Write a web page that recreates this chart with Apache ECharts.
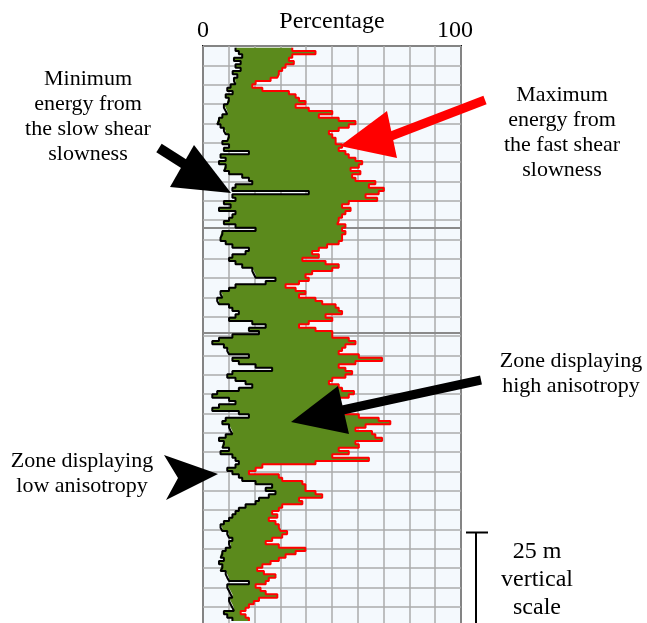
<!DOCTYPE html>
<html><head><meta charset="utf-8">
<script src="https://cdn.jsdelivr.net/npm/echarts/dist/echarts.min.js"></script>
<style>html,body{margin:0;padding:0;background:#fff;}#c{width:647px;height:623px;}</style>
</head><body><div id="c"></div>
<script>
// Minimum energy (slow shear slowness), percent, one sample per depth step (top -> bottom)
const minEnergy = [null,
12.6,13.9,15.2,12,14.6,12.6,14.6,11.5,13.3,12,12.6,10.7,9.4,11.5,8.8,10,9.4,8.1,8.8,9.4,7.5,6.2,5.5,6.8,8.1,8.8,10,9.4,
7.5,10.1,8.1,17.8,6.8,8.8,6.2,8.8,8.1,10.1,15.2,17.8,19.1,12.6,11.4,41,11.4,12.6,8.1,10.7,6.2,12.6,11.4,10.1,8.1,12.6,20.4,7.5,6.8,
6.8,8.8,11.4,17.8,16.5,11.4,10.1,12.6,15.2,19.1,19.7,20.4,28.1,24.3,12.6,10.1,6.8,7.5,5.5,6.2,10.1,11.4,13.9,12.6,10.1,19.1,24.3,17.8,21.7,
11.4,6.2,3.6,8.1,9.4,10.1,17.8,11.4,13.9,20.4,26.8,11.4,9.4,12.6,16.5,19.1,13.9,5.5,3.6,10.1,12.6,6.2,3.6,13.9,17.8,8.8,7.5,10.1,10.7,
11.4,8.8,6.2,8.1,7.5,10.1,6.8,11.4,12.6,13.9,12.6,9.4,11.4,13.9,15.2,20.4,26.8,24.3,28.1,25.5,21.7,20.4,16.5,13.9,12.6,11.4,10.1,8.1,6.8,
7.5,9.4,10.1,11.4,10.1,10.7,8.8,7.5,6.8,8.1,6.2,7.5,6.8,8.8,9.4,10.1,17.8,9.4,10.1,10.7,11.4,10.1,10.7,11.4,12,8.1,9.4,11.4,
null,null];
// Maximum energy (fast shear slowness), percent
const maxEnergy = [null,
34.6,43.6,34.6,33.3,35.2,32,30.7,29.4,28.8,26.2,20.4,19.1,23,33.3,35.9,37.2,39.7,35.9,41,50.1,44.9,52.6,59.1,56.5,52.6,48.8,50.1,51.4,
51.4,53.9,52.6,55.2,56.5,59.1,61.7,60.4,57.2,61,57.8,59.1,66.8,64.3,70.1,68.1,63,67.5,56.5,53.9,57.2,55.2,53.9,52.6,52,55.2,53.9,55.2,53.9,
53.9,52.6,48.1,44.9,42.3,44.9,38.5,47.5,52.6,50.1,42.3,39.7,41,37.2,32,35.9,39.7,37.2,43.6,46.2,51.4,52.6,53.9,47.5,50.1,41,37.2,43.6,50.1,
50.1,56.5,59.1,55.2,53.9,52.6,60.4,69.4,59.1,52.6,55.2,57.8,55.2,50.1,48.8,52.6,53.9,58.5,56.5,52.6,50.1,52.6,53.9,55.2,60.4,68.1,72.6,63,59.1,
65.5,66.8,69.4,59.1,60.4,52.6,56.5,50.1,64.3,43.6,23,20.4,17.8,29.4,30.7,38.5,39.7,39.7,43.6,46.2,37.2,38.5,30.7,29.4,26.8,28.8,25.5,28.1,29.4,
30.1,32.6,30.7,26.8,24.3,29.4,39.7,35.9,32,29.4,26.2,23,21,23.6,28.1,25.5,24.3,20.4,22.3,24.3,28.8,21.7,19.7,17.8,16.5,14.6,16.5,17.8,
null,null];
const depthSamples = minEnergy.map((_, i) => String(i));
const xTickLabels = [0, 100];
const depthRange = [0, 150];       // metres shown by the grid
const depthGridStep = 5;           // metres between horizontal grid lines
const markerDepths = [47.05, 74.25];

const FONT = '"Liberation Serif", "Times New Roman", serif';
const minData = minEnergy.map(v => v == null ? '-' : v);
const spanData = maxEnergy.map((v, i) => (v == null || minEnergy[i] == null) ? '-' : +(v - minEnergy[i]).toFixed(2));

const chart = echarts.init(document.getElementById('c'), null, {renderer: 'canvas'});
const txt = (text, x, y, size, lh) => ({
  type: 'text', x: x, y: y, silent: true, z: 100,
  style: {text: text, font: size + 'px ' + FONT, fill: '#000', align: 'center', verticalAlign: 'top', lineHeight: lh}
});
chart.setOption({
  animation: false,
  backgroundColor: '#ffffff',
  grid: {left: 203, right: 186, top: 46, bottom: -3, show: true, backgroundColor: '#f4f9fd',
         borderColor: '#111', borderWidth: 2, containLabel: false, outerBoundsMode: 'none'},
  xAxis: {
    type: 'value', position: 'top', min: 0, max: 100, interval: 10,
    name: 'Percentage', nameLocation: 'middle', nameGap: 12, nameMoveOverlap: false,
    nameTextStyle: {fontFamily: FONT, fontSize: 24, color: '#000'},
    axisLine: {show: false}, axisTick: {show: false},
    axisLabel: {margin: 3, fontFamily: FONT, fontSize: 24, color: '#000', hideOverlap: false,
      formatter: v => xTickLabels.indexOf(v) < 0 ? '' : (v === 100 ? '{r|' + v + '}' : String(v)),
      rich: {r: {fontFamily: FONT, fontSize: 24, color: '#000', padding: [0, 12, 0, 0]}}},
    splitLine: {show: true, lineStyle: {color: '#ababab', width: 1.5}}
  },
  yAxis: [
    {type: 'category', data: depthSamples, inverse: true, boundaryGap: false, show: false},
    {type: 'value', min: depthRange[0], max: depthRange[1], interval: depthGridStep, inverse: true, position: 'left',
     axisLine: {show: false}, axisTick: {show: false}, axisLabel: {show: false},
     splitLine: {show: true, lineStyle: {color: '#ababab', width: 1.5}}}
  ],
  series: [
    {type: 'line', name: 'markers', yAxisIndex: 1, data: [], symbol: 'none', silent: true, z: 1,
     markLine: {silent: true, symbol: 'none', label: {show: false}, z: 1,
       lineStyle: {color: '#8a8a8a', width: 2, type: 'solid'},
       data: markerDepths.map(d => ({yAxis: d}))}},
    {type: 'line', name: 'base', yAxisIndex: 0, stack: 'energy', data: minData, step: 'middle',
     symbol: 'none', silent: true, lineStyle: {opacity: 0}, z: 2},
    {type: 'line', name: 'Maximum energy', yAxisIndex: 0, stack: 'energy', data: spanData, step: 'middle',
     symbol: 'none', silent: true, lineStyle: {color: '#ff0000', width: 2},
     areaStyle: {color: '#5b8a1c', opacity: 1}, z: 3},
    {type: 'line', name: 'Minimum energy', yAxisIndex: 0, data: minData, step: 'middle',
     symbol: 'none', silent: true, lineStyle: {color: '#000000', width: 2}, z: 4}
  ],
  graphic: [
    txt('Minimum\nenergy from\nthe slow shear\nslowness', 88, 67, 22, 25),
    txt('Maximum\nenergy from\nthe fast shear\nslowness', 562, 83, 22, 25),
    txt('Zone displaying\nhigh anisotropy', 571, 349, 22, 25),
    txt('Zone displaying\nlow anisotropy', 82, 449, 22, 25),
    txt('25 m\nvertical\nscale', 537, 538, 24, 28),
    // scale bar
    {type: 'line', silent: true, z: 100, shape: {x1: 476, y1: 532, x2: 476, y2: 640}, style: {stroke: '#000', lineWidth: 2}},
    {type: 'line', silent: true, z: 100, shape: {x1: 466, y1: 532.5, x2: 488, y2: 532.5}, style: {stroke: '#000', lineWidth: 2}},
    // arrow: minimum energy
    {type: 'line', silent: true, z: 100, shape: {x1: 159, y1: 148, x2: 192, y2: 169}, style: {stroke: '#000', lineWidth: 10}},
    {type: 'polygon', silent: true, z: 100, shape: {points: [[231, 193], [194, 145], [170, 187]]}, style: {fill: '#000'}},
    // arrow: maximum energy (red)
    {type: 'line', silent: true, z: 100, shape: {x1: 386, y1: 138, x2: 485, y2: 100}, style: {stroke: '#ff0000', lineWidth: 9}},
    {type: 'polygon', silent: true, z: 100, shape: {points: [[340, 146], [387, 111], [397, 158]]}, style: {fill: '#ff0000'}},
    // arrow: high anisotropy
    {type: 'line', silent: true, z: 100, shape: {x1: 338, y1: 411, x2: 481, y2: 380}, style: {stroke: '#000', lineWidth: 9}},
    {type: 'polygon', silent: true, z: 100, shape: {points: [[291, 422], [338, 386], [349, 434]]}, style: {fill: '#000'}},
    // arrowhead: low anisotropy
    {type: 'polygon', silent: true, z: 100, shape: {points: [[218, 474], [164, 455], [178, 478], [166, 500]]}, style: {fill: '#000'}}
  ]
});
</script>
</body></html>
